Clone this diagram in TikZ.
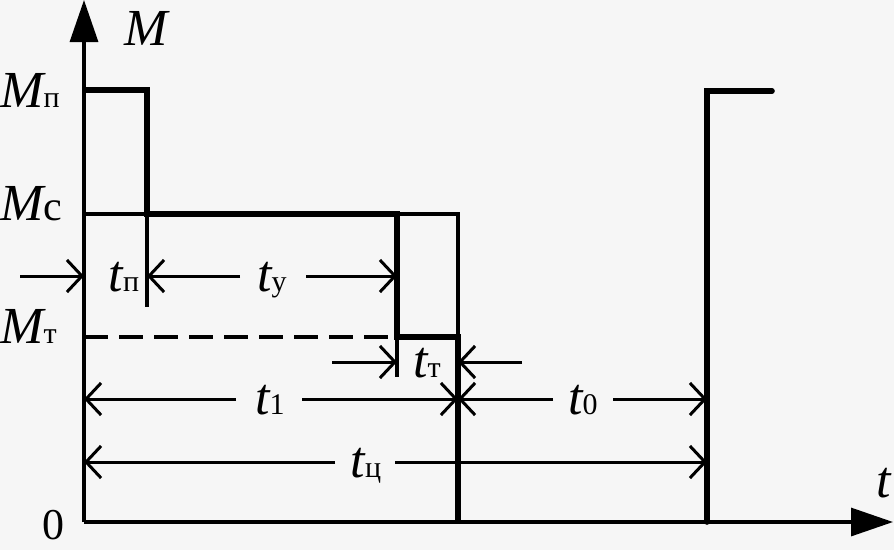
\documentclass[tikz,border=0pt]{standalone}
\usepackage{fontspec}
\setmainfont{Liberation Serif}
\usetikzlibrary{arrows.meta}
\definecolor{bg}{RGB}{246,246,246}
\newcommand\mysub[1]{{\fontsize{30pt}{30pt}\selectfont\upshape #1}}
\begin{document}
\begin{tikzpicture}[x=1pt,y=-1pt,
  thinl/.style={line width=3.2pt},
  thickl/.style={line width=5.6pt},
  axisl/.style={line width=3.2pt,-{Triangle[length=42pt,width=28pt]}},
  dimarr/.style={line width=3pt,-{Straight Barb[length=15pt,width=32pt]}},
  lbl/.style={font=\fontsize{52pt}{52pt}\selectfont\itshape, inner sep=0pt, anchor=base},
]
\fill[bg] (0,0) rectangle (894,550);
\useasboundingbox (0,0) rectangle (894,550);
% key coordinates
\coordinate (O) at (84,522);
\coordinate (ytop) at (84,0);
\coordinate (xend) at (893,522);
\coordinate (P0) at (84,90);
\coordinate (P1) at (147,90);
\coordinate (C0) at (84,214);
\coordinate (C1) at (147,214);
\coordinate (C2) at (397,214);
\coordinate (C3) at (458,214);
\coordinate (T0) at (84,337);
\coordinate (T1) at (397,337);
\coordinate (T2) at (458,337);
\coordinate (E1) at (458,522);
\coordinate (Pe1) at (147,307);
\coordinate (Te1) at (397,377);
\coordinate (Q0) at (707,522);
\coordinate (Q1) at (707,91);
\coordinate (Q2) at (772,91);
% axes
\draw[axisl] (O) -- (ytop);
\draw[axisl] (O) -- (xend);
% load diagram
\draw[thickl] (P0) -- (P1) -- (C1) -- (C2) -- (T1) -- (T2) -- (E1);
\draw[thinl] (C1) -- (Pe1);
\draw[thinl] (T1) -- (Te1);
\draw[thinl] (C0) -- (C1);
\draw[thinl] (C2) -- (C3) -- (T2);
\draw[thinl, dash pattern=on 24pt off 11pt] (T0) -- (T1);
\draw[thickl, line cap=round] (Q0) -- (Q1) -- (Q2);
% dimension row t_p / t_y
\coordinate (a1) at (20,276);
\coordinate (a2) at (84,276);
\coordinate (a3) at (240,276);
\coordinate (a4) at (147,276);
\coordinate (a5) at (306,276);
\coordinate (a6) at (397,276);
\draw[dimarr] (a1) -- (a2);
\draw[dimarr] (a3) -- (a4);
\draw[dimarr] (a5) -- (a6);
\node[lbl] (ltp) at (124,291) {t\mysub{п}};
\node[lbl] (lty) at (272,291) {t\mysub{у}};
% row t_t
\coordinate (b1) at (332,362);
\coordinate (b2) at (397,362);
\coordinate (b3) at (522,362);
\coordinate (b4) at (458,362);
\draw[dimarr] (b1) -- (b2);
\draw[dimarr] (b3) -- (b4);
\node[lbl] (ltt) at (427,377) {t\mysub{т}};
% row t1 / t0
\coordinate (c1) at (236,399);
\coordinate (c2) at (84,399);
\coordinate (c3) at (302,399);
\coordinate (c4) at (458,399);
\coordinate (c5) at (553,399);
\coordinate (c6) at (613,399);
\coordinate (c7) at (707,399);
\draw[dimarr] (c1) -- (c2);
\draw[dimarr] (c3) -- (c4);
\draw[dimarr] (c5) -- (c4);
\draw[dimarr] (c6) -- (c7);
\node[lbl] (lt1) at (270,414) {t\mysub{1}};
\node[lbl] (lt0) at (583,414) {t\mysub{0}};
% row t_ts
\coordinate (d1) at (335,462);
\coordinate (d2) at (84,462);
\coordinate (d3) at (395,462);
\coordinate (d4) at (707,462);
\draw[dimarr] (d1) -- (d2);
\draw[dimarr] (d3) -- (d4);
\node[lbl] (ltc) at (366,477) {t\mysub{ц}};
% axis labels
\node[lbl, anchor=base west] (lM) at (124,45) {M};
\node[lbl, anchor=base west] (lMp) at (0,107) {M\mysub{п}};
\node[lbl, anchor=base west] (lMc) at (0,220) {M{\fontsize{42pt}{42pt}\selectfont\upshape с}};
\node[lbl, anchor=base west] (lMt) at (0,343) {M\mysub{т}};
\node[lbl, font=\fontsize{44pt}{44pt}\selectfont] (l0) at (53,539) {0};
\node[lbl] (lt) at (884,497) {t};
\end{tikzpicture}
\end{document}
